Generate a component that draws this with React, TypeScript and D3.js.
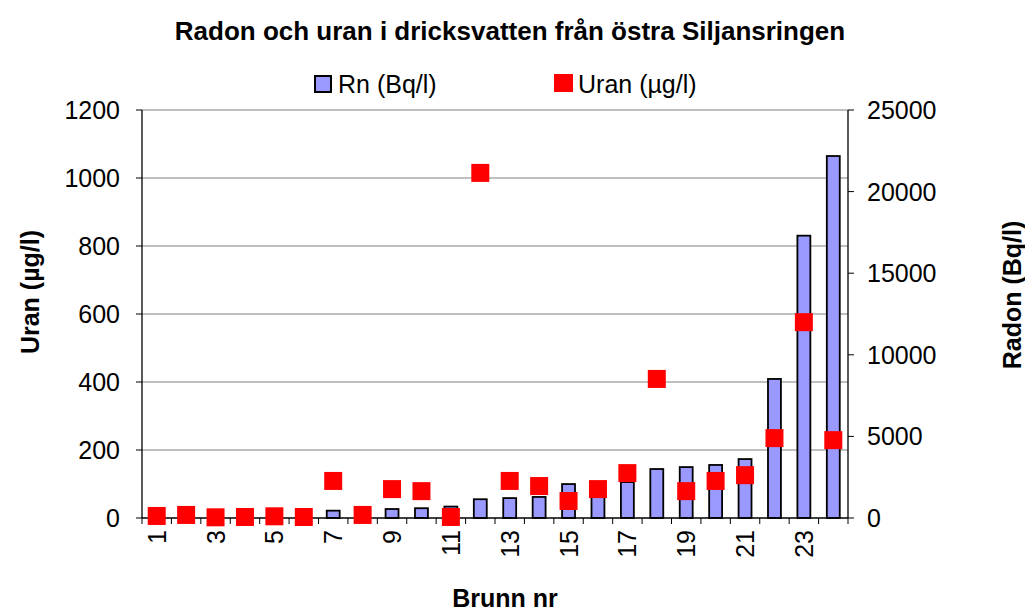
import React, { useEffect, useRef } from 'react';
import * as d3 from 'd3';

const wells = d3.range(1, 25).map(String);
const radon = [100, 100, 80, 100, 90, 80, 450, 100, 550, 600, 700, 1150, 1220, 1290, 2080, 1290, 2200, 3000, 3120, 3250, 3610, 8520, 17300, 22180];
const uran = [6, 9, 2, 3, 5, 3, 109, 9, 85, 79, 3, 1015, 109, 94, 50, 85, 132, 409, 79, 109, 126, 235, 576, 229];
const leftTicks = [0, 200, 400, 600, 800, 1000, 1200];
const rightTicks = [0, 5000, 10000, 15000, 20000, 25000];

const App: React.FC = () => {
  const ref = useRef<SVGSVGElement>(null);

  useEffect(() => {
    if (!ref.current) return;
    const svg = d3.select(ref.current);
    svg.selectAll('*').remove();
    const font = 'Liberation Sans, Arial, sans-serif';
    const left = 142, right = 848, top = 110, bottom = 518;

    const x = d3.scaleBand().domain(wells).range([left, right]);
    const yU = d3.scaleLinear().domain([0, 1200]).range([bottom, top]);
    const yR = d3.scaleLinear().domain([0, 25000]).range([bottom, top]);

    // gridlines
    svg.append('g').selectAll('line').data(leftTicks.filter(t => t > 0)).join('line')
      .attr('x1', left).attr('x2', right)
      .attr('y1', d => yU(d)).attr('y2', d => yU(d))
      .attr('stroke', '#808080').attr('stroke-width', 1);

    // bars
    const bw = x.bandwidth() * 0.44;
    svg.append('g').selectAll('rect').data(radon).join('rect')
      .attr('x', (d, i) => x(wells[i])! + (x.bandwidth() - bw) / 2)
      .attr('y', d => yR(d))
      .attr('width', bw)
      .attr('height', d => bottom - yR(d))
      .attr('fill', '#9999FF').attr('stroke', '#000').attr('stroke-width', 1.8);

    // axes
    const ax = svg.append('g').attr('font-family', font).attr('font-size', 25).attr('fill', '#000');
    ax.append('line').attr('x1', left).attr('x2', left).attr('y1', top).attr('y2', bottom).attr('stroke', '#000').attr('stroke-width', 1.3);
    ax.append('line').attr('x1', right).attr('x2', right).attr('y1', top).attr('y2', bottom).attr('stroke', '#000').attr('stroke-width', 1.3);
    ax.append('line').attr('x1', left).attr('x2', right).attr('y1', bottom).attr('y2', bottom).attr('stroke', '#000').attr('stroke-width', 1.3);

    leftTicks.forEach(t => {
      ax.append('line').attr('x1', left - 6).attr('x2', left).attr('y1', yU(t)).attr('y2', yU(t)).attr('stroke', '#000');
      ax.append('text').attr('x', left - 22).attr('y', yU(t)).attr('dy', '0.36em').attr('text-anchor', 'end').text(t);
    });
    rightTicks.forEach(t => {
      ax.append('line').attr('x1', right).attr('x2', right + 6).attr('y1', yR(t)).attr('y2', yR(t)).attr('stroke', '#000');
      ax.append('text').attr('x', right + 19).attr('y', yR(t)).attr('dy', '0.36em').attr('text-anchor', 'start').text(t);
    });
    const bounds = wells.map(w => x(w)!).concat([right]);
    bounds.forEach(b => {
      ax.append('line').attr('x1', b).attr('x2', b).attr('y1', bottom).attr('y2', bottom + 6).attr('stroke', '#000');
    });
    wells.forEach((w, i) => {
      if (i % 2 !== 0) return;
      const cx = x(w)! + x.bandwidth() / 2;
      ax.append('text')
        .attr('transform', `translate(${cx},${bottom + 12}) rotate(-90)`)
        .attr('dy', '0.36em').attr('text-anchor', 'end').text(w);
    });

    // uran markers
    const ms = 18;
    svg.append('g').selectAll('rect').data(uran).join('rect')
      .attr('x', (d, i) => x(wells[i])! + x.bandwidth() / 2 - ms / 2)
      .attr('y', d => yU(d) - ms / 2)
      .attr('width', ms).attr('height', ms)
      .attr('fill', '#FF0000');

    // titles
    const t = svg.append('g').attr('font-family', font).attr('fill', '#000').attr('font-weight', 'bold');
    t.append('text').attr('x', 510).attr('y', 40).attr('text-anchor', 'middle')
      .attr('font-size', 26).text('Radon och uran i dricksvatten från östra Siljansringen');
    t.append('text').attr('x', 505).attr('y', 607).attr('text-anchor', 'middle')
      .attr('font-size', 25).text('Brunn nr');
    t.append('text').attr('transform', 'translate(30,292) rotate(-90)').attr('dy', '0.36em').attr('text-anchor', 'middle')
      .attr('font-size', 25).text('Uran (µg/l)');
    t.append('text').attr('transform', 'translate(1012,295) rotate(-90)').attr('dy', '0.36em').attr('text-anchor', 'middle')
      .attr('font-size', 25).text('Radon (Bq/l)');

    // legend
    const lg = svg.append('g').attr('font-family', font).attr('font-size', 25).attr('fill', '#000');
    lg.append('rect').attr('x', 315).attr('y', 76).attr('width', 16).attr('height', 16)
      .attr('fill', '#9999FF').attr('stroke', '#000').attr('stroke-width', 2);
    lg.append('text').attr('x', 338).attr('y', 93).text('Rn (Bq/l)');
    lg.append('rect').attr('x', 554).attr('y', 74).attr('width', 19).attr('height', 18).attr('fill', '#FF0000');
    lg.append('text').attr('x', 578).attr('y', 93).text('Uran (µg/l)');
  }, []);

  return <svg ref={ref} width={1025} height={614} style={{ position: 'absolute', left: 0, top: 0 }} />;
};

export default App;
